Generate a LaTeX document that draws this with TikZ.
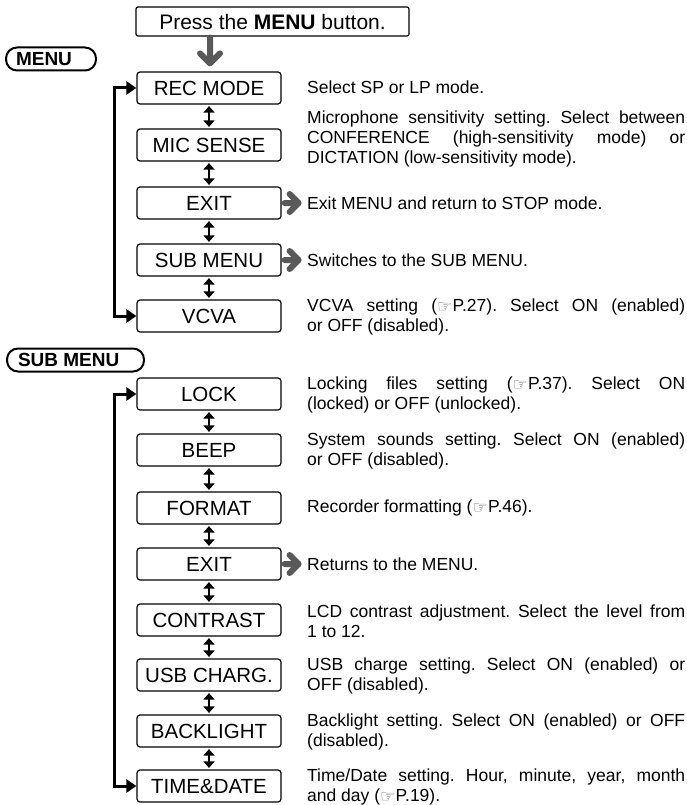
\documentclass[tikz,border=0pt]{standalone}
\usepackage{fontspec}
\setmainfont{Liberation Sans}
\newfontfamily\symfont{DejaVu Sans}
\usetikzlibrary{arrows.meta,calc}
\frenchspacing
\newcommand\hand{{\symfont\fontsize{17}{17}\selectfont\color{black!60}\raisebox{-0.5pt}{☞}}\kern0.3pt}
\newcommand\jl[1]{\makebox[378pt][s]{#1}}
\begin{document}
\begin{tikzpicture}[x=1pt,y=-1pt,
  itembox/.style={draw, line width=1.2pt, rounded corners=3pt, minimum width=144pt, minimum height=32pt, inner sep=0pt, font=\fontsize{20.5}{20.5}\selectfont},
  desc/.style={anchor=west, inner sep=0pt, font=\fontsize{17.5}{20}\selectfont\frenchspacing, align=left},
  capsule/.style={draw, line width=2pt, rounded corners=11pt, inner sep=0pt, minimum height=23pt, anchor=west, font=\bfseries\fontsize{19}{19}\selectfont},
  dbl/.style={{Triangle[width=11pt,length=6.5pt]}-{Triangle[width=11pt,length=6.5pt]}, line width=2.8pt, shorten <=1.5pt, shorten >=1.5pt},
  loopline/.style={{Triangle[width=13pt,length=10pt]}-{Triangle[width=13pt,length=10pt]}, line width=3pt},
  grayarr/.style={draw=black!65, line width=6pt, line cap=round, line join=round}
]
\useasboundingbox (0,0) rectangle (687,805);

% top
\node[draw, line width=1.2pt, rounded corners=2pt, minimum width=273pt, minimum height=29pt, inner sep=0pt, font=\fontsize{21}{21}\selectfont] (press) at (272.5,21.5) {Press the \textbf{MENU} button.};

\node[capsule] (menucap) at (5,59) {\hspace*{10pt}\makebox[80pt][l]{MENU}};

% MENU items
\node[itembox] (rec) at (209,88) {REC MODE};
\node[itembox] (mic) at (209,145) {MIC SENSE};
\node[itembox] (exit) at (209,203) {EXIT};
\node[itembox] (sub) at (209,260) {SUB MENU};
\node[itembox] (vcva) at (209,316) {VCVA};

\node[capsule] (subcap) at (6,360) {\hspace*{11pt}\makebox[126pt][l]{SUB MENU}};

\node[itembox] (lock) at (209,394) {LOCK};
\node[itembox] (beep) at (209,450) {BEEP};
\node[itembox] (format) at (209,508) {FORMAT};
\node[itembox] (exitb) at (209,564) {EXIT};
\node[itembox] (contrast) at (209,620) {CONTRAST};
\node[itembox] (usb) at (209,675) {USB CHARG.};
\node[itembox] (back) at (209,731) {BACKLIGHT};
\node[itembox] (time) at (209,786) {TIME\&DATE};

% descriptions
\node[desc] (drec) at (307,87) {Select SP or LP mode.};
\node[desc] (dmic) at (307,139) {\jl{Microphone sensitivity setting. Select between}\\\jl{CONFERENCE (high-sensitivity mode) or}\\DICTATION (low-sensitivity mode).};
\node[desc] (dexit) at (307,203) {Exit MENU and return to STOP mode.};
\node[desc] (dsub) at (307,260) {Switches to the SUB MENU.};
\node[desc] (dvcva) at (307,317) {\jl{VCVA setting (\hand P.27). Select ON (enabled)}\\or OFF (disabled).};
\node[desc] (dlock) at (307,395) {\jl{Locking files setting (\hand P.37). Select ON}\\(locked) or OFF (unlocked).};
\node[desc] (dbeep) at (307,451) {\jl{System sounds setting. Select ON (enabled)}\\or OFF (disabled).};
\node[desc] (dformat) at (307,508) {Recorder formatting (\hand P.46).};
\node[desc] (dexitb) at (307,564) {Returns to the MENU.};
\node[desc] (dcontrast) at (307,621) {\jl{LCD contrast adjustment. Select the level from}\\1 to 12.};
\node[desc] (dusb) at (307,676) {\jl{USB charge setting. Select ON (enabled) or}\\OFF (disabled).};
\node[desc] (dback) at (307,732) {\jl{Backlight setting. Select ON (enabled) or OFF}\\(disabled).};
\node[desc] (dtime) at (307,787) {\jl{Time/Date setting. Hour, minute, year, month}\\and day (\hand P.19).};

% down arrow
\coordinate (dtop) at ($(rec.north |- press.south)+(1,1)$);
\coordinate (dtip) at ($(rec.north)+(1,-8)$);
\path[grayarr] (dtop) -- (dtip) ($(dtip)+(-10,-10)$) -- (dtip) -- ($(dtip)+(10,-10)$);

% double arrows
\foreach \a/\b in {rec/mic, mic/exit, exit/sub, sub/vcva, lock/beep, beep/format, format/exitb, exitb/contrast, contrast/usb, usb/back, back/time}
  \draw[dbl] (\a.south) -- (\b.north);

% loops
\draw[loopline] (rec.west) -- ++(-22,0) |- (vcva.west);
\draw[loopline] (lock.west) -- ++(-22,0) |- (time.west);

% gray right arrows
\foreach \n in {exit, sub, exitb}{
  \coordinate (s\n) at ($(\n.east)+(3,0)$);
  \coordinate (t\n) at ($(\n.east)+(17,0)$);
  \path[grayarr] (s\n) -- (t\n) ($(t\n)+(-9,-9)$) -- (t\n) -- ($(t\n)+(-9,9)$);
}
\end{tikzpicture}
\end{document}
